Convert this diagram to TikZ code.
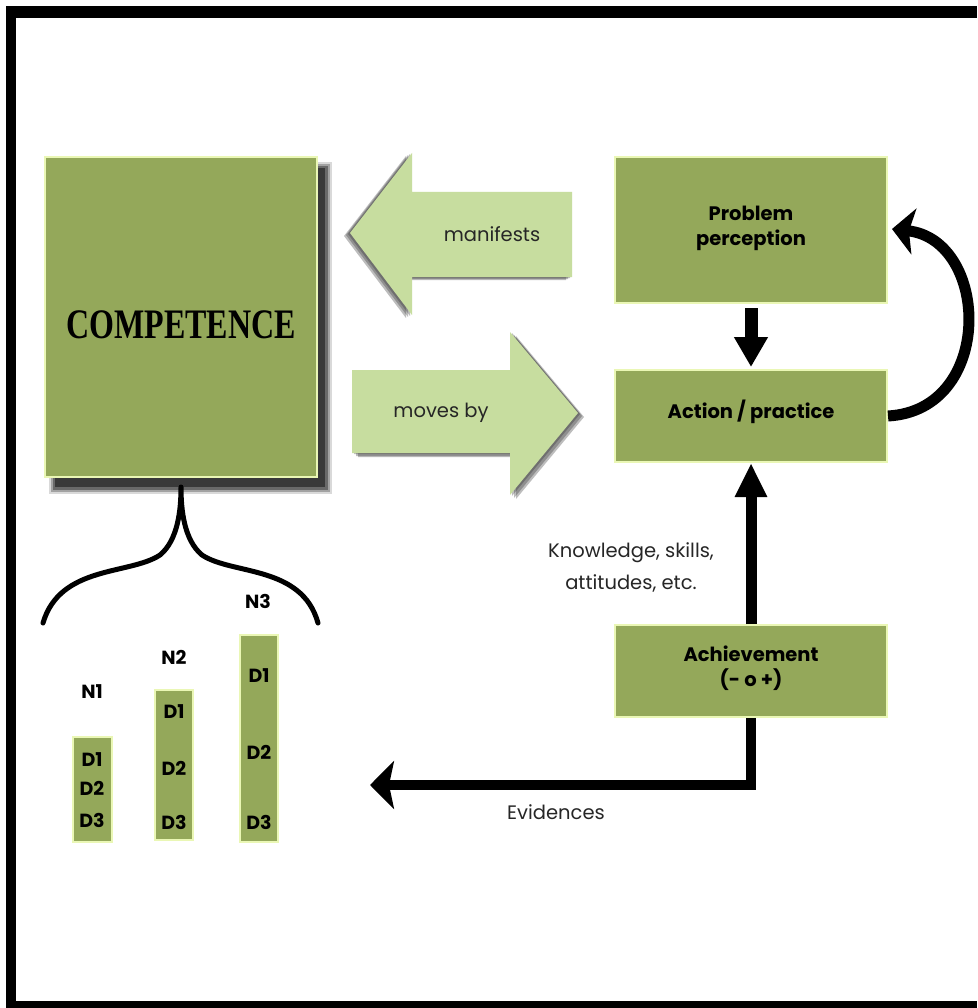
\documentclass[tikz,border=0pt]{standalone}
\usepackage{fontspec}
\setmainfont{Poppins}
\newfontfamily\serifb{Liberation Serif}
\usetikzlibrary{arrows.meta}
\definecolor{boxgreen}{HTML}{94A85A}
\definecolor{lightgreen}{HTML}{C7DD9F}
\definecolor{glow}{HTML}{EAF7B5}
\begin{document}
\begin{tikzpicture}[x=1pt,y=-1pt,
  gbox/.style={draw=glow, line width=2pt, fill=boxgreen, inner sep=0pt},
  lbl/.style={font=\fontsize{19.5}{32}\selectfont, align=center, text=black!85},
  blbl/.style={font=\fontsize{19.5}{25}\selectfont\bfseries, align=center},
  nlbl/.style={font=\fontsize{19}{20}\selectfont\bfseries, inner sep=0pt},
  conn/.style={line width=13pt, black},
  bigarrow/.style={fill=lightgreen},
  arrshadow/.style={fill=black!85, opacity=0.3}
]
\useasboundingbox (0,0) rectangle (977,1008);
\fill[white] (0,0) rectangle (977,1008);
% frame
\fill[black] (6,6) rectangle (977,18);
\fill[black] (6,6) rectangle (16,1008);
\fill[black] (6,1001) rectangle (977,1008);

% COMPETENCE shadow (soft layers)
\fill[black, opacity=0.15] (49,162) rectangle (332,494);
\fill[black, opacity=0.25] (51,164) rectangle (330,492);
\fill[black, opacity=0.35] (53,166) rectangle (328,490);
\fill[black, opacity=0.45] (55,168) rectangle (325,487);
\node[gbox, minimum width=272pt, minimum height=320pt] (comp) at (181,317) {};
\node (comptxt) at (181,325) {\scalebox{0.8}[1.05]{\serifb\bfseries\fontsize{40}{40}\selectfont COMPETENCE}};

% big arrows
\foreach \s in {(-6,3),(-4,2),(-2,1)}{
  \fill[arrshadow, shift={\s}] (350,233) -- (412,153) -- (412,192) -- (572,192) -- (572,277) -- (412,277) -- (412,315) -- cycle;}
\fill[bigarrow] (350,233) -- (412,153) -- (412,192) -- (572,192) -- (572,277) -- (412,277) -- (412,315) -- cycle;
\node[lbl] (manif) at (492,234) {manifests};
\foreach \s in {(6,4),(4,3),(2,1)}{
  \fill[arrshadow, shift={\s}] (352,370) -- (510,370) -- (510,332) -- (578,413) -- (510,495) -- (510,453) -- (352,453) -- cycle;}
\fill[bigarrow] (352,370) -- (510,370) -- (510,332) -- (578,413) -- (510,495) -- (510,453) -- (352,453) -- cycle;
\node[lbl] (moves) at (441,413) {moves by};

% right boxes
\node[gbox, minimum width=272pt, minimum height=146pt] (pp) at (751,230) {};
\node[blbl] (pptxt) at (751,228) {Problem\\perception};
\node[gbox, minimum width=272pt, minimum height=92pt] (ap) at (751,416) {};
\node[blbl] (aptxt) at (751,412) {Action / practice};
\node[gbox, minimum width=272pt, minimum height=92pt] (ach) at (751,671) {};
\node[blbl] (achtxt) at (751,668) {Achievement\\(- o +)};

% connectors
\draw[conn, shorten <=4pt, shorten >=2pt, -{Triangle[length=30pt,width=32pt]}] (pp.south) -- (ap.north);
\draw[line width=11pt, black, -{Triangle[length=34pt,width=30pt]}] (ach.north) -- (ap.south);
\coordinate (evtip) at (370,785);
\draw[line width=10pt, black, line join=miter, -{Stealth[length=24pt,width=48pt,inset=5pt]}] (ach.south) |- (evtip);
\coordinate (loopend) at (892,229);
\draw[line width=11pt, black, -{Stealth[length=22pt,width=46pt,inset=5pt]}] (ap.east) .. controls (995,410) and (990,240) .. (loopend);

\node[lbl] (know) at (631,567) {Knowledge, skills,\\attitudes, etc.};
\node[lbl] (evid) at (556,812) {Evidences};

% brace
\draw[line width=5pt, black, line cap=round, line join=round]
  (43,623) .. controls (60,565) and (130,575) .. (160,555)
  .. controls (178,540) and (181,510) .. (181,487)
  .. controls (181,510) and (184,540) .. (202,555)
  .. controls (232,575) and (302,565) .. (318,623);

% N columns
\node[gbox, minimum width=39pt, minimum height=105pt] (n1box) at (92.5,789.5) {};
\node[gbox, minimum width=38pt, minimum height=150pt] (n2box) at (174,765) {};
\node[gbox, minimum width=38pt, minimum height=207pt] (n3box) at (259,738.5) {};
\node[nlbl] (n1) at (92,692) {N1};
\node[nlbl] (n2) at (174,657) {N2};
\node[nlbl] (n3) at (258,601) {N3};
\node[nlbl] (n1d1) at (92,760) {D1};
\node[nlbl] (n1d2) at (92,788) {D2};
\node[nlbl] (n1d3) at (92,820) {D3};
\node[nlbl] (n2d1) at (174,712) {D1};
\node[nlbl] (n2d2) at (174,768) {D2};
\node[nlbl] (n2d3) at (174,822) {D3};
\node[nlbl] (n3d1) at (259,676) {D1};
\node[nlbl] (n3d2) at (259,752) {D2};
\node[nlbl] (n3d3) at (259,822) {D3};
\end{tikzpicture}
\end{document}
